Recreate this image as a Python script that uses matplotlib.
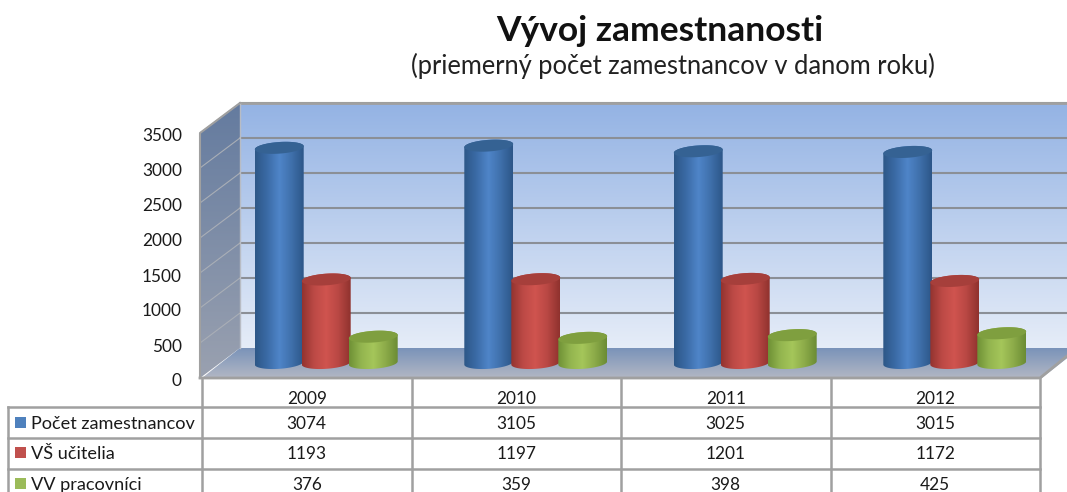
import matplotlib
matplotlib.use("Agg")
import matplotlib.pyplot as plt
import numpy as np
from matplotlib.colors import LinearSegmentedColormap
from matplotlib.patches import Polygon

plt.rcParams["font.family"] = ["Lato", "DejaVu Sans"]

years = ["2009", "2010", "2011", "2012"]
pocet = [3074, 3105, 3025, 3015]
ucitelia = [1193, 1197, 1201, 1172]
vv = [376, 359, 398, 425]
series_names = ["Počet zamestnancov", "VŠ učitelia", "VV pracovníci"]
y_ticks = [0, 500, 1000, 1500, 2000, 2500, 3000, 3500]

# pixel scale of the front plane of the fake 3d box
PX_CAT = 209.5
PX_VAL = 0.07
X0, Y0 = 202, 378
W, H = 1067, 492
GRAY = "#a0a0a0"


def dx(px):
    return (px - X0) / PX_CAT


def dy(py):
    return (Y0 - py) / PX_VAL


def pts(points):
    return [(dx(x), dy(y)) for x, y in points]


fig = plt.figure(figsize=(W / 100, H / 100), dpi=100)
ax = fig.add_axes([0, 0, 1, 1])
ax.axis("off")


def gradient(colors, box, clip, horizontal=False, z=1):
    """box = left, right, top, bottom in pixels, clipped to a polygon in pixels."""
    cmap = LinearSegmentedColormap.from_list("g", colors)
    ramp = np.linspace(0, 1, 128)
    ramp = ramp.reshape(1, -1) if horizontal else ramp.reshape(-1, 1)
    im = ax.imshow(ramp, cmap=cmap, aspect="auto", origin="upper", zorder=z,
                   extent=(dx(box[0]), dx(box[1]), dy(box[3]), dy(box[2])),
                   interpolation="bilinear")
    patch = Polygon(pts(clip), closed=True, transform=ax.transData)
    im.set_clip_path(patch)


# walls and floor
gradient(["#94b3e4", "#e6edf8"], (240, 1080, 103, 350),
         [(240, 103), (1080, 103), (1080, 350), (240, 350)])
gradient(["#647b9f", "#9aa1b0"], (200, 240, 103, 378),
         [(200, 133), (240, 103), (240, 348), (200, 378)], z=2)
gradient(["#7a93b9", "#b2b7c4"], (200, 1080, 348, 378),
         [(202, 378), (240, 348), (1080, 348), (1042, 378)], z=2)

for i in range(1, 8):
    val = y_ticks[i]
    y_back = Y0 - 30 - val * PX_VAL
    ax.plot([dx(240), dx(1080)], [dy(y_back)] * 2, color="#8b8f96", lw=1.5, zorder=3)
    ax.plot([dx(200), dx(240)], [val, dy(y_back)], color="#a9aeb6", lw=0.8, zorder=3)

ax.plot([dx(240), dx(1080)], [dy(103)] * 2, color=GRAY, lw=2, zorder=3)
ax.plot([dx(240), dx(240)], [dy(103), dy(348)], color="#b8bcc4", lw=1, zorder=3)
ax.plot(*zip(*pts([(200, 378), (200, 133), (240, 103)])), color=GRAY, lw=1.5, zorder=3)
ax.plot(*zip(*pts([(200, 378), (1040, 378), (1067, 356)])), color=GRAY, lw=2, zorder=3)

# cylinders
palettes = [
    (["#2d5787", "#3b6ba6", "#4f85c9", "#3f70ab", "#2c5688"], "#356293"),
    (["#93332f", "#bd4a46", "#d0544f", "#b84743", "#8f322e"], "#a63f3b"),
    (["#6f9136", "#93b54f", "#a5c65a", "#8cab49", "#6b8c34"], "#7f9f3f"),
]
BAR_A = 24.5
BAR_B = 5.8
TILT = np.radians(4)


def ellipse(cx, cy, t):
    ex = BAR_A * np.cos(t) * np.cos(TILT) - BAR_B * np.sin(t) * np.sin(TILT)
    ey = -(BAR_A * np.cos(t) * np.sin(TILT) + BAR_B * np.sin(t) * np.cos(TILT))
    return np.column_stack([cx + ex, cy + ey])


for s, values in enumerate([pocet, ucitelia, vv]):
    colors, top_color = palettes[s]
    for c, val in enumerate(values):
        cx = X0 + (c + 0.5) * PX_CAT + 20 + (s - 1) * 47 - 0.5
        base = Y0 - 15
        top = base - val * PX_VAL
        t_low = np.linspace(np.pi, 2 * np.pi, 40)
        t_up = np.linspace(0, np.pi, 40)
        outline = np.vstack([ellipse(cx, base, t_low), ellipse(cx, top, t_up)])
        z = 5 + s * 2 + c * 0.1
        gradient(colors, (cx - BAR_A, cx + BAR_A, top - 10, base + 10),
                 [tuple(p) for p in outline], horizontal=True, z=z)
        cap = ellipse(cx, top, np.linspace(0, 2 * np.pi, 80))
        ax.fill(*zip(*pts([tuple(p) for p in cap])), color=top_color, lw=0, zorder=z + 0.05)

# value axis labels
for val in y_ticks:
    ax.text(dx(182), val - 50, str(val), ha="right", va="center", fontsize=12.4,
            color="#1a1a1a", zorder=10)

# data table
col_x = [dx(X0 + i * PX_CAT) for i in range(5)]
row_y = [378, 407, 438, 469]
for y in row_y[1:]:
    ax.plot([dx(8), dx(1040)], [dy(y)] * 2, color=GRAY, lw=1.8, zorder=9)
for i, x in enumerate(col_x):
    ax.plot([x, x], [dy(378), dy(H + 5)], color=GRAY, lw=1.8, zorder=9)
ax.plot([dx(8), dx(8)], [dy(407), dy(H + 5)], color=GRAY, lw=1.8, zorder=9)

for i, yr in enumerate(years):
    ax.text(i + 0.5, dy(399.5), yr, ha="center", va="center", fontsize=12.4, color="#1a1a1a")
swatch_colors = ["#4f81bd", "#c0504d", "#9bbb59"]
row_text_y = [424, 454, 485]
for r, values in enumerate([pocet, ucitelia, vv]):
    py = row_text_y[r]
    ax.fill(*zip(*pts([(15, py - 7), (26, py - 7), (26, py + 4), (15, py + 4)])),
            color=swatch_colors[r], lw=0, zorder=10)
    ax.text(dx(31), dy(py), series_names[r], ha="left", va="center", fontsize=13.1,
            color="#1a1a1a")
    for i, val in enumerate(values):
        ax.text(i + 0.5, dy(py), str(val), ha="center", va="center", fontsize=12.4,
                color="#1a1a1a")

# titles
ax.text(dx(660), dy(31), "Vývoj zamestnanosti", ha="center", va="center",
        fontsize=25.5, fontweight="bold", color="#111111")
ax.text(dx(673), dy(66), "(priemerný počet zamestnancov v danom roku)", ha="center",
        va="center", fontsize=18.4, color="#222222")

ax.set_xlim(dx(0), dx(W))
ax.set_ylim(dy(H), dy(0))
fig.savefig("out.png", dpi=100)
